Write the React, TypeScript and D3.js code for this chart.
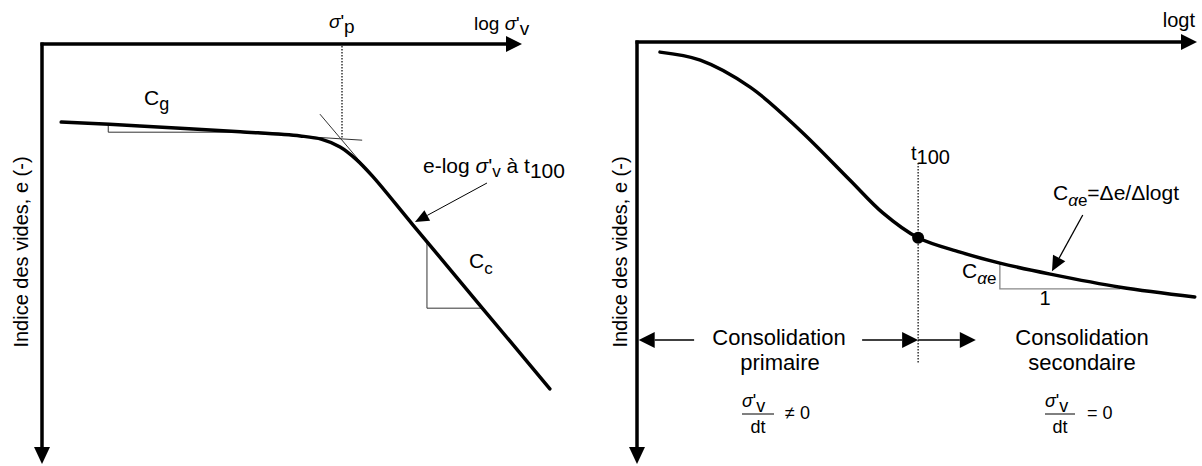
import * as d3 from 'd3'

const width = 1202
const height = 466
const font = '"Liberation Sans", Arial, sans-serif'

// left diagram: e - log σ'v at t100 (axis units 0..100, e grows downward)
const compLogS = [4, 20.4, 41.3, 53.8, 58.3, 62.1, 65.4, 68.8, 77.3, 91.9, 105.8]
const compE = [18.6, 19.5, 20.9, 21.9, 22.7, 24.5, 27.4, 31.4, 43.1, 63.1, 82.1]

// right diagram: e - log t
const creepLogT = [4.1, 11.3, 20.2, 29.1, 38, 43.9, 50.2, 57.7, 64.8, 73.8, 86.3, 99.6]
const creepE = [2.4, 4.3, 10.7, 20.9, 32.7, 40.5, 46.4, 49.8, 52.4, 55, 58.1, 60.4]

const sigmaP = 62.5
const t100 = 50.2
const t100E = 46.4

const xL = d3.scaleLinear().domain([0, 100]).range([42, 522])
const yL = d3.scaleLinear().domain([0, 100]).range([44, 464])
const xR = d3.scaleLinear().domain([0, 100]).range([637, 1197])
const yR = d3.scaleLinear().domain([0, 100]).range([42, 464])

const head = (x1: number, y1: number, x2: number, y2: number, len: number, half: number) => {
  const a = Math.atan2(y2 - y1, x2 - x1)
  const bx = x2 - len * Math.cos(a)
  const by = y2 - len * Math.sin(a)
  const px = -Math.sin(a) * half
  const py = Math.cos(a) * half
  return { base: [bx, by], pts: `${x2},${y2} ${bx + px},${by + py} ${bx - px},${by - py}` }
}

const Arrow = ({ x1, y1, x2, y2, len = 15, half = 7, sw = 1.5 }: any) => {
  const h = head(x1, y1, x2, y2, len, half)
  return (
    <g>
      <line x1={x1} y1={y1} x2={h.base[0]} y2={h.base[1]} stroke="#000" strokeWidth={sw} />
      <polygon points={h.pts} fill="#000" />
    </g>
  )
}

const Axes = ({ x, y }: any) => {
  const x0 = x(0), y0 = y(0)
  return (
    <g>
      <Arrow x1={x0 - 1.5} y1={y0} x2={x(100)} y2={y0} len={16} half={8} sw={3.5} />
      <Arrow x1={x0} y1={y0 - 1.5} x2={x0} y2={y(100)} len={17} half={8} sw={3.5} />
    </g>
  )
}

const pts = (sx: any, sy: any, list: number[][]) => list.map(([a, b]) => `${sx(a)},${sy(b)}`).join(' ')

export default function App() {
  const lineL = d3
    .line<number>()
    .x((d) => xL(d))
    .y((_, i) => yL(compE[i]))
    .curve(d3.curveCatmullRom.alpha(0.5))
  const lineR = d3
    .line<number>()
    .x((d) => xR(d))
    .y((_, i) => yR(creepE[i]))
    .curve(d3.curveCatmullRom.alpha(0.5))

  const thin = { stroke: '#333', strokeWidth: 1, fill: 'none' }
  const grey = { stroke: '#888', strokeWidth: 1.3, fill: 'none' }
  const arrowY = yR(70.6)

  return (
    <svg width={width} height={height} style={{ display: 'block', position: 'absolute', left: 0, top: 0 }}
      fontFamily={font} fill="#000">
      {/* left: compressibility */}
      <Axes x={xL} y={yL} />
      <line x1={xL(sigmaP)} x2={xL(sigmaP)} y1={yL(0) + 2} y2={yL(22.6)} stroke="#000" strokeWidth={1.2} strokeDasharray="1.5 1.5" />
      <line x1={xL(39.2)} y1={yL(20.9)} x2={xL(66.7)} y2={yL(22.9)} {...thin} />
      <line x1={xL(57.9)} y1={yL(16.7)} x2={xL(68.8)} y2={yL(31.4)} {...thin} />
      <polyline points={pts(xL, yL, [[13.8, 19.2], [13.8, 21], [41.9, 21]])} {...thin} />
      <polyline points={pts(xL, yL, [[80.2, 47.1], [80.2, 62.9], [91.7, 62.9]])} {...thin} />
      <path d={lineL(compLogS) || ''} fill="none" stroke="#000" strokeWidth={3.5} strokeLinecap="round" />
      <Arrow x1={xL(92.7)} y1={yL(33.1)} x2={xL(77.7)} y2={yL(42.4)} len={14} half={6} sw={1} />

      <text x={329} y={28} fontSize={19}>
        <tspan fontStyle="italic">σ</tspan>'<tspan dy={5}>p</tspan>
      </text>
      <text x={474} y={30} fontSize={19}>
        log <tspan fontStyle="italic">σ</tspan>'<tspan dy={5}>v</tspan>
      </text>
      <text x={144} y={105} fontSize={21}>
        C<tspan dy={5} fontSize={18}>g</tspan>
      </text>
      <text x={423} y={173} fontSize={21}>
        e-log <tspan fontStyle="italic">σ</tspan>'<tspan dy={4} fontSize={17}>v</tspan>
        <tspan dy={-4}> à t</tspan><tspan dy={5}>100</tspan>
      </text>
      <text x={469} y={268} fontSize={21}>
        C<tspan dy={6} fontSize={17}>c</tspan>
      </text>
      <text transform="translate(28,252) rotate(-90)" textAnchor="middle" fontSize={20}>
        Indice des vides, e (-)
      </text>

      {/* right: secondary compression */}
      <Axes x={xR} y={yR} />
      <line x1={xR(t100)} x2={xR(t100)} y1={yR(28.7)} y2={yR(76.1)} stroke="#000" strokeWidth={1.2} strokeDasharray="1.5 1.5" />
      <polyline points={pts(xR, yR, [[64.8, 52.4], [64.8, 58.5], [86.3, 58.5]])} {...grey} />
      <path d={lineR(creepLogT) || ''} fill="none" stroke="#000" strokeWidth={3.5} strokeLinecap="round" />
      <circle cx={xR(t100)} cy={yR(t100E)} r={6} fill="#000" />
      <Arrow x1={xR(79.6)} y1={yR(41)} x2={xR(74.1)} y2={yR(54.3)} len={15} half={7} sw={1.3} />

      <Arrow x1={xR(10.2)} y1={arrowY} x2={xR(0.3)} y2={arrowY} len={16} half={8} sw={1.5} />
      <Arrow x1={xR(40.2)} y1={arrowY} x2={xR(t100)} y2={arrowY} len={16} half={8} sw={1.5} />
      <Arrow x1={xR(t100)} y1={arrowY} x2={xR(60.5)} y2={arrowY} len={16} half={8} sw={1.5} />

      <text x={1195} y={27} fontSize={20} textAnchor="end">logt</text>
      <text x={911} y={160} fontSize={20}>
        t<tspan dy={4}>100</tspan>
      </text>
      <text x={1053} y={200} fontSize={21}>
        C<tspan dy={6} fontSize={17} fontStyle="italic">α</tspan><tspan fontSize={17}>e</tspan>
        <tspan dy={-6}>=Δe/Δlogt</tspan>
      </text>
      <text x={962} y={278} fontSize={21}>
        C<tspan dy={6} fontSize={17} fontStyle="italic">α</tspan><tspan fontSize={17}>e</tspan>
      </text>
      <text x={1045} y={305} fontSize={20} textAnchor="middle">1</text>

      <text x={779} y={345} fontSize={22} textAnchor="middle">Consolidation</text>
      <text x={780} y={370} fontSize={22} textAnchor="middle">primaire</text>
      <text x={1082} y={345} fontSize={22} textAnchor="middle">Consolidation</text>
      <text x={1082} y={370} fontSize={22} textAnchor="middle">secondaire</text>

      <text x={742} y={407} fontSize={18}>
        <tspan fontStyle="italic">σ</tspan>'<tspan dy={5}>v</tspan>
      </text>
      <line x1={742} x2={774} y1={414} y2={414} stroke="#000" strokeWidth={1} />
      <text x={758} y={433} fontSize={18} textAnchor="middle">dt</text>
      <text x={785} y={419} fontSize={18}>≠ 0</text>

      <text x={1045} y={407} fontSize={18}>
        <tspan fontStyle="italic">σ</tspan>'<tspan dy={5}>v</tspan>
      </text>
      <line x1={1045} x2={1075} y1={414} y2={414} stroke="#000" strokeWidth={1} />
      <text x={1060} y={433} fontSize={18} textAnchor="middle">dt</text>
      <text x={1087} y={419} fontSize={18}>= 0</text>

      <text transform="translate(627,252) rotate(-90)" textAnchor="middle" fontSize={20}>
        Indice des vides, e (-)
      </text>
    </svg>
  )
}
